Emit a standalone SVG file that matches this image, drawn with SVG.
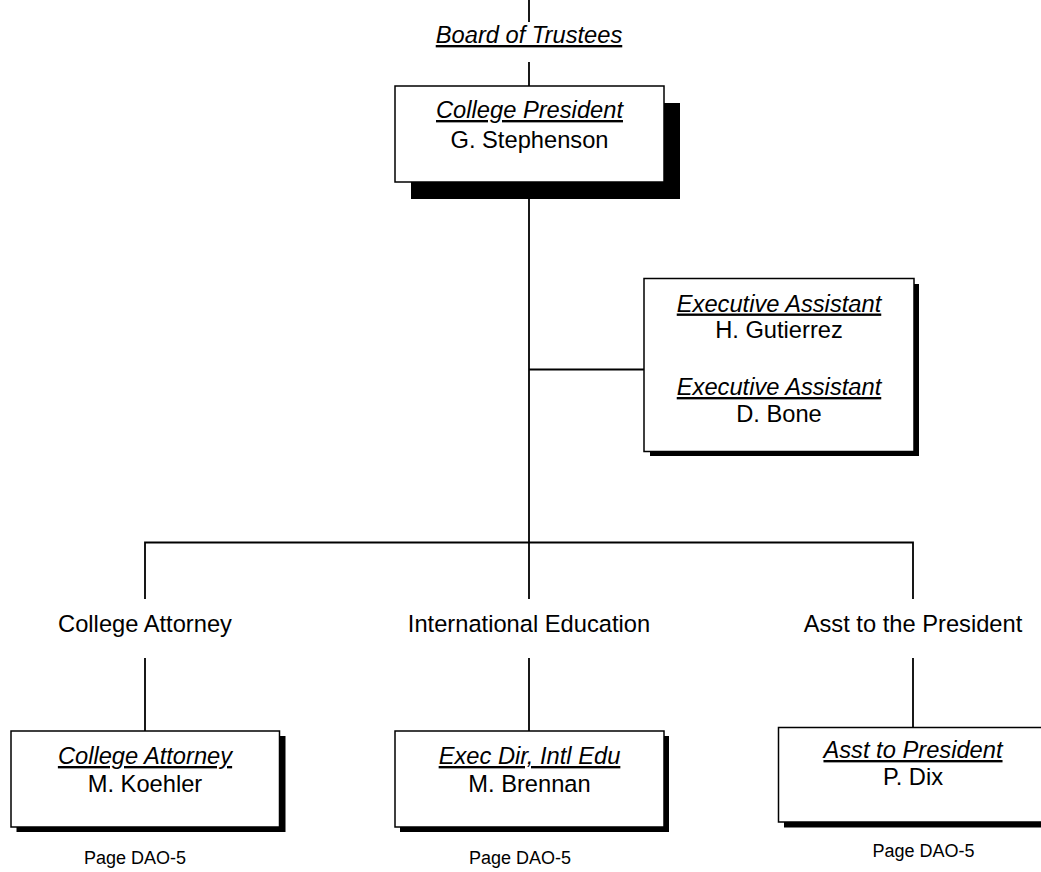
<svg xmlns="http://www.w3.org/2000/svg" width="1041" height="872" viewBox="0 0 1041 872">
<style>
.bg{fill:#fff}
.box{fill:#fff;stroke:#000;stroke-width:1.5}
.sh{fill:#000}
.ln{stroke:#000;stroke-width:1.8;fill:none}
text{font-family:"Liberation Sans",Arial,sans-serif;font-size:23.7px;fill:#000;text-anchor:middle}
.t{font-style:italic;text-decoration:underline}
.pg{font-size:18px}
</style>
<rect class="bg" x="0" y="0" width="1041" height="872"/>
<g id="connectors">
<line class="ln" x1="529" y1="0" x2="529" y2="22"/>
<line class="ln" x1="529" y1="62" x2="529" y2="86"/>
<line class="ln" x1="529" y1="182" x2="529" y2="542.5"/>
<line class="ln" x1="529" y1="369.5" x2="644" y2="369.5"/>
<polyline class="ln" points="145,599 145,542.5 913,542.5 913,599"/>
<line class="ln" x1="529" y1="542.5" x2="529" y2="599"/>
<line class="ln" x1="145" y1="658" x2="145" y2="731"/>
<line class="ln" x1="529" y1="658" x2="529" y2="731"/>
<line class="ln" x1="913" y1="658" x2="913" y2="727"/>
</g>
<g id="board">
<text class="t" x="529" y="43">Board of Trustees</text>
</g>
<g id="president">
<rect class="sh" x="411" y="103" width="269" height="96"/>
<rect class="box" x="395" y="86" width="269" height="96"/>
<text class="t" x="529.5" y="118">College President</text>
<text x="529.5" y="148">G. Stephenson</text>
</g>
<g id="exec-assistants">
<rect class="sh" x="650" y="284" width="269" height="172"/>
<rect class="box" x="644" y="278.5" width="270" height="173"/>
<text class="t" x="779" y="311.5">Executive Assistant</text>
<text x="779" y="338">H. Gutierrez</text>
<text class="t" x="779" y="395">Executive Assistant</text>
<text x="779" y="421.5">D. Bone</text>
</g>
<g id="college-attorney-dept">
<text x="145" y="632">College Attorney</text>
</g>
<g id="intl-edu-dept">
<text x="529" y="632">International Education</text>
</g>
<g id="asst-dept">
<text x="913" y="632">Asst to the President</text>
</g>
<g id="college-attorney">
<rect class="sh" x="16.5" y="736" width="269" height="96"/>
<rect class="box" x="11" y="731" width="268.5" height="96"/>
<text class="t" x="145" y="764">College Attorney</text>
<text x="145" y="791.5">M. Koehler</text>
<text class="pg" x="135" y="864">Page DAO-5</text>
</g>
<g id="exec-dir">
<rect class="sh" x="400" y="736" width="269" height="96"/>
<rect class="box" x="395" y="731" width="269" height="96"/>
<text class="t" x="529.5" y="764">Exec Dir, Intl Edu</text>
<text x="529.5" y="791.5">M. Brennan</text>
<text class="pg" x="520" y="864">Page DAO-5</text>
</g>
<g id="asst-to-president">
<rect class="sh" x="784" y="733" width="270" height="94.5"/>
<rect class="box" x="778.5" y="727.5" width="270" height="94.5"/>
<text class="t" x="913" y="758">Asst to President</text>
<text x="913" y="785">P. Dix</text>
<text class="pg" x="923.5" y="857">Page DAO-5</text>
</g>
</svg>
